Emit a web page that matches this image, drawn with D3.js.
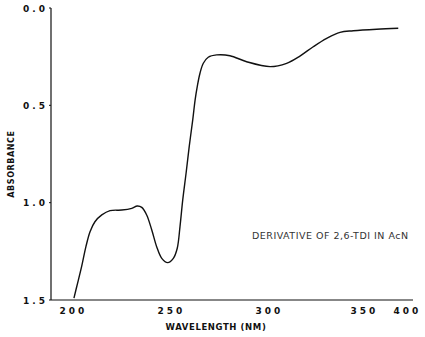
<!DOCTYPE html>
<html>
<head>
<meta charset="utf-8">
<script src="https://cdn.jsdelivr.net/npm/d3@7"></script>
<style>
  html, body { margin: 0; padding: 0; background: #fff; }
  svg { display: block; }
</style>
</head>
<body>
<svg id="chart" width="425" height="337"></svg>
<script>
// Absorbance spectrum of the 2,6-TDI derivative in acetonitrile
const wavelength = [201.0, 202.4, 204.9, 207.1, 209.2, 211.7, 215.2, 219.4, 225.4, 230.5,
  233.3, 235.6, 238.1, 240.7, 243.2, 245.8, 248.8, 251.7, 253.7, 255.1,
  256.5, 258.2, 259.8, 261.6, 262.8, 263.9, 265.3, 267.0, 269.5, 273.8,
  280.6, 289.1, 301.1, 309.8, 316.8, 323.8, 330.9, 337.9, 344.9, 365.9, 391.0];
const absorbance = [1.490, 1.432, 1.329, 1.226, 1.149, 1.098, 1.063, 1.041, 1.038, 1.029,
  1.017, 1.024, 1.063, 1.140, 1.226, 1.286, 1.308, 1.286, 1.234, 1.123,
  0.986, 0.849, 0.712, 0.575, 0.473, 0.404, 0.335, 0.284, 0.253, 0.241,
  0.245, 0.276, 0.301, 0.284, 0.247, 0.199, 0.156, 0.125, 0.117, 0.109, 0.104];
const xTicks = [200, 250, 300, 350, 400];
const xTickLabels = ["200", "250", "300", "350", "400"];
const yTicks = [0.0, 0.5, 1.0, 1.5];
const yTickLabels = ["0.0", "0.5", "1.0", "1.5"];

const svg = d3.select("#chart");

// Chart-paper wavelength axis is not evenly spaced; piecewise scale
const x = d3.scaleLinear().domain(xTicks).range([72, 170, 268, 363, 406]);
const y = d3.scaleLinear().domain([0, 1.5]).range([8, 300]);

const axisLeftX = 51;
const axisRightX = 413;

// Axis lines
svg.append("line")
  .attr("x1", axisLeftX).attr("x2", axisLeftX)
  .attr("y1", y(0)).attr("y2", y(1.5))
  .attr("stroke", "#111").attr("stroke-width", 1.2);
svg.append("line")
  .attr("x1", axisLeftX).attr("x2", axisRightX)
  .attr("y1", y(1.5)).attr("y2", y(1.5))
  .attr("stroke", "#111").attr("stroke-width", 1.2);

// Y ticks and labels
const yg = svg.append("g");
yg.selectAll("line").data(yTicks).join("line")
  .attr("x1", axisLeftX - 2).attr("x2", axisLeftX)
  .attr("y1", d => y(d)).attr("y2", d => y(d))
  .attr("stroke", "#111").attr("stroke-width", 1);
yg.selectAll("text").data(yTicks).join("text")
  .attr("x", axisLeftX - 3)
  .attr("y", d => y(d) + 3.5)
  .attr("text-anchor", "end")
  .attr("font-family", "DejaVu Sans, sans-serif")
  .attr("font-weight", "bold")
  .attr("font-size", 9)
  .attr("letter-spacing", 3)
  .attr("fill", "#111")
  .text((d, i) => yTickLabels[i]);

// X tick labels
svg.append("g").selectAll("text").data(xTicks).join("text")
  .attr("x", d => x(d) + 1.5)
  .attr("y", 314)
  .attr("text-anchor", "middle")
  .attr("font-family", "DejaVu Sans, sans-serif")
  .attr("font-weight", "bold")
  .attr("font-size", 9)
  .attr("letter-spacing", 3)
  .attr("fill", "#111")
  .text((d, i) => xTickLabels[i]);

// Axis titles
svg.append("text")
  .attr("x", 216).attr("y", 330)
  .attr("text-anchor", "middle")
  .attr("font-family", "DejaVu Sans, sans-serif")
  .attr("font-weight", "bold")
  .attr("font-size", 8.5)
  .attr("letter-spacing", 0.6)
  .attr("fill", "#111")
  .text("WAVELENGTH (NM)");

svg.append("text")
  .attr("transform", "translate(14,164) rotate(-90)")
  .attr("text-anchor", "middle")
  .attr("font-family", "DejaVu Sans, sans-serif")
  .attr("font-weight", "bold")
  .attr("font-size", 8)
  .attr("letter-spacing", 0.6)
  .attr("fill", "#111")
  .text("ABSORBANCE");

// Annotation
svg.append("text")
  .attr("x", 252).attr("y", 239)
  .attr("font-family", "DejaVu Sans, sans-serif")
  .attr("font-size", 9.5)
  .attr("letter-spacing", 0.5)
  .attr("fill", "#333")
  .text("DERIVATIVE OF 2,6-TDI IN AcN");

// Spectrum line
const pts = wavelength.map((w, i) => [w, absorbance[i]]);
const line = d3.line()
  .x(d => x(d[0]))
  .y(d => y(d[1]))
  .curve(d3.curveCatmullRom.alpha(0.5));
svg.append("path")
  .datum(pts)
  .attr("d", line)
  .attr("fill", "none")
  .attr("stroke", "#111")
  .attr("stroke-width", 1.4);
</script>
</body>
</html>
